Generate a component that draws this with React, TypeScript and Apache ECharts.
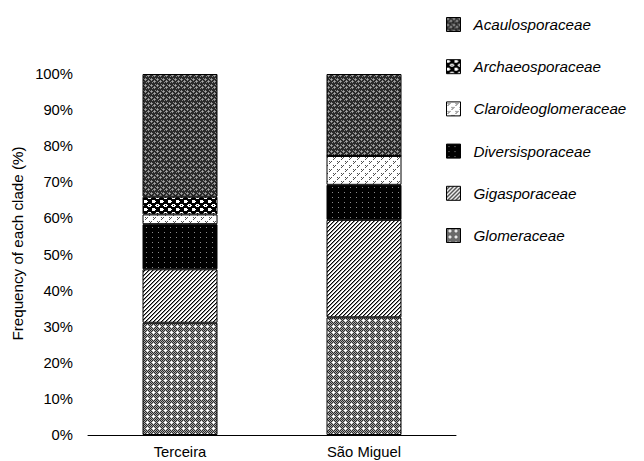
import React, { useEffect, useRef } from "react";
import * as echarts from "echarts";

const categories = ["Terceira", "São Miguel"];
const glomeraceae = [31.1, 32.6];
const gigasporaceae = [14.8, 27.0];
const diversisporaceae = [12.5, 9.7];
const claroideoglomeraceae = [2.7, 8.0];
const archaeosporaceae = [4.9, 0];
const acaulosporaceae = [34.0, 22.7];
const legendOrder = [
  "Acaulosporaceae",
  "Archaeosporaceae",
  "Claroideoglomeraceae",
  "Diversisporaceae",
  "Gigasporaceae",
  "Glomeraceae",
];

const FONT = "'Liberation Sans', Arial, sans-serif";

const palette: Record<string, string> = {
  K: "#000000",
  D: "#2a2a2a",
  G: "#8a8a8a",
  H: "#a8a8a8",
  L: "#d0d0d0",
  M: "#505050",
  W: "#ffffff",
};

function tile(rows: string[]) {
  const h = rows.length;
  const w = rows[0].length;
  const c = document.createElement("canvas");
  c.width = w;
  c.height = h;
  const ctx = c.getContext("2d")!;
  for (let y = 0; y < h; y++) {
    for (let x = 0; x < w; x++) {
      ctx.fillStyle = palette[rows[y][x]] || "#fff";
      ctx.fillRect(x, y, 1, 1);
    }
  }
  return { image: c, repeat: "repeat", imageWidth: w, imageHeight: h } as any;
}

export default function App() {
  const ref = useRef<HTMLDivElement>(null);
  useEffect(() => {
    if (!ref.current) return;
    const chart = echarts.init(ref.current, null, { renderer: "svg" });

    const pAcaulo = tile([
      "DGDDDG",
      "GHGDDD",
      "DGDDGD",
      "DDDGHG",
      "DDGDGD",
      "DDDDDD",
    ]);
    const pArchaeo = tile([
      "WWWKKKKK",
      "WWWWKKKK",
      "WWWKKKKK",
      "KKKKKKKK",
      "KKKKWWWK",
      "KKKWWKWW",
      "KKKKWWWK",
      "KKKKKKKK",
    ]);
    const pClaroid = tile([
      "WWWWWWWW",
      "WMWMWWWW",
      "WWMWWWWW",
      "WMWWWWWW",
      "WWWWWWWW",
      "WWWWWMWM",
      "WWWWWWMW",
      "WWWWWMWW",
    ]);
    const pDivers = tile([
      "KKKKKK",
      "KKKKKK",
      "KKGKKK",
      "KKKKKK",
      "KKKKKK",
    ]);
    const pGiga = tile([
      "WWKG",
      "WKGW",
      "KGWW",
      "GWWK",
    ]);
    const pGlom = tile([
      "DHDHDH",
      "HDHWHD",
      "DHWWWH",
      "HDHWHD",
      "DHDHDH",
      "HDHDHD",
    ]);

    const border = { borderColor: "#000", borderWidth: 1 };
    const mk = (name: string, data: number[], color: any) => ({
      name,
      type: "bar",
      stack: "total",
      barWidth: 75,
      data,
      itemStyle: { color, ...border },
      emphasis: { disabled: true },
    });

    chart.setOption({
      animation: false,
      grid: { left: 88, top: 74, width: 368, height: 361, containLabel: false },
      legend: {
        data: legendOrder,
        orient: "vertical",
        left: 446,
        top: 17,
        padding: 0,
        itemWidth: 14,
        itemHeight: 14,
        itemGap: 27.2,
        icon: "rect",
        itemStyle: { borderColor: "#000", borderWidth: 1 },
        textStyle: {
          fontFamily: FONT,
          fontStyle: "italic",
          fontSize: 15.2,
          color: "#000",
          lineHeight: 14,
          padding: [0, 0, 0, 8],
        },
        selectedMode: false,
      },
      xAxis: {
        type: "category",
        data: categories,
        axisLine: { show: true, lineStyle: { color: "#000", width: 1 } },
        axisTick: { show: false },
        axisLabel: { color: "#000", fontSize: 14.8, fontFamily: FONT, margin: 9 },
      },
      yAxis: {
        type: "value",
        min: 0,
        max: 100,
        interval: 10,
        axisLine: { show: false },
        axisTick: { show: false },
        splitLine: { show: false },
        axisLabel: {
          formatter: "{value}%",
          color: "#000",
          fontSize: 14.8,
          fontFamily: FONT,
          margin: 15,
        },
      },
      graphic: [
        {
          type: "text",
          x: 17.5,
          y: 243.5,
          rotation: Math.PI / 2,
          style: {
            text: "Frequency of each clade (%)",
            fontSize: 15.2,
            fontFamily: FONT,
            fill: "#000",
            align: "center",
            verticalAlign: "middle",
          },
        },
      ],
      series: [
        mk("Glomeraceae", glomeraceae, pGlom),
        mk("Gigasporaceae", gigasporaceae, pGiga),
        mk("Diversisporaceae", diversisporaceae, pDivers),
        mk("Claroideoglomeraceae", claroideoglomeraceae, pClaroid),
        mk("Archaeosporaceae", archaeosporaceae, pArchaeo),
        mk("Acaulosporaceae", acaulosporaceae, pAcaulo),
      ],
    });
    return () => chart.dispose();
  }, []);
  return (
    <div
      ref={ref}
      style={{ position: "fixed", left: 0, top: 0, width: 644, height: 461, background: "#fff" }}
    />
  );
}
